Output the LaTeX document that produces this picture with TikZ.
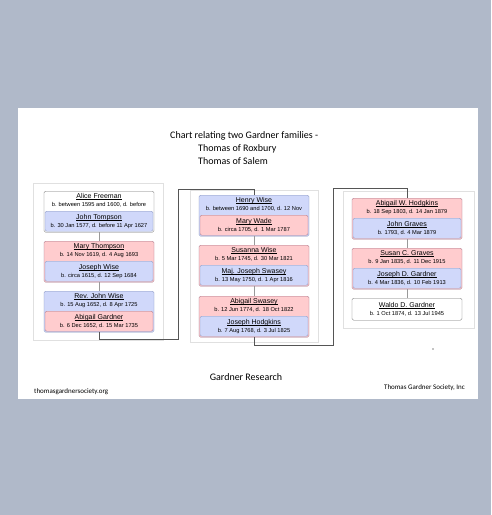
\documentclass[tikz,border=0pt]{standalone}
\usepackage{fontspec}
\setmainfont{Liberation Sans}
\newfontfamily\calibfont{Carlito}
\usetikzlibrary{positioning}
\definecolor{pagebg}{RGB}{176,185,201}
\definecolor{pinkfill}{RGB}{255,204,206}
\definecolor{pinkline}{RGB}{165,115,135}
\definecolor{bluefill}{RGB}{208,216,250}
\definecolor{blueline}{RGB}{135,148,190}
\definecolor{linkgray}{RGB}{85,85,85}
\newcommand{\bdate}[1]{{\fontsize{5.7}{7.5}\selectfont #1}}
\newsavebox{\namebox}
\newcommand{\pname}[1]{\sbox{\namebox}{#1}\rlap{\rule[-1.1pt]{\wd\namebox}{0.4pt}}\usebox{\namebox}}
\tikzset{
  couple/.style={rectangle, rounded corners=1.5pt, minimum width=110pt, minimum height=41pt, inner sep=0pt, anchor=north},
  spouse/.style={rectangle, rounded corners=1.5pt, minimum width=108pt, minimum height=20pt, inner sep=0pt, align=center, font=\fontsize{7}{7.8}\selectfont},
  ptext/.style={align=center, inner sep=0.5pt, font=\fontsize{7}{7.8}\selectfont},
  pinkbox/.style={fill=pinkfill, draw=pinkline},
  bluebox/.style={fill=bluefill, draw=blueline},
  whitebox/.style={fill=white, draw=black!55},
  kin/.style={draw=black!40, line width=0.6pt},
  link/.style={draw=linkgray, line width=0.8pt},
  panel/.style={draw=black!12, line width=0.6pt},
  ttl/.style={font=\calibfont\fontsize{10}{12}\selectfont, inner sep=0pt},
  foot/.style={font=\calibfont\fontsize{7}{8}\selectfont, inner sep=0pt}
}

\begin{document}
\begin{tikzpicture}[x=1pt, y=-1pt]
    \fill[pagebg] (0,0) rectangle (491,515);
    \useasboundingbox (0,0) rectangle (491,515);
    \fill[white] (18,108) rectangle (478,399);

    % title
    \node[ttl, anchor=west] (title1) at (170,136) {Chart relating two Gardner families -};
    \node[ttl, anchor=west] (title2) at (198,148.5) {Thomas of Roxbury};
    \node[ttl, anchor=west] (title3) at (198,161) {Thomas of Salem};

    % column panels
    \draw[panel] (33,183) rectangle (163,340);
    \draw[panel] (190,190) rectangle (318,342);
    \draw[panel] (343,191) rectangle (474,328);

    % left column
    \node[couple, whitebox] (af) at (99,191) {};
    \node[ptext, below=2pt of af.north] (af-t) {\pname{Alice Freeman}\\\bdate{b. between 1595 and 1600, d. before}};
    \node[spouse, bluebox, above=1pt of af.south] (jt) {\pname{John Tompson}\\\bdate{b. 30 Jan 1577, d. before 11 Apr 1627}};

    \node[couple, pinkbox] (mt) at (99,241) {};
    \node[ptext, below=2pt of mt.north] (mt-t) {\pname{Mary Thompson}\\\bdate{b. 14 Nov 1619, d. 4 Aug 1693}};
    \node[spouse, bluebox, above=1pt of mt.south] (jw) {\pname{Joseph Wise}\\\bdate{b. circa 1615, d. 12 Sep 1684}};

    \node[couple, bluebox] (rjw) at (99,291) {};
    \node[ptext, below=2pt of rjw.north] (rjw-t) {\pname{Rev. John Wise}\\\bdate{b. 15 Aug 1652, d. 8 Apr 1725}};
    \node[spouse, pinkbox, above=1pt of rjw.south] (ag) {\pname{Abigail Gardner}\\\bdate{b. 6 Dec 1652, d. 15 Mar 1735}};

    % middle column
    \node[couple, bluebox] (hw) at (254,195) {};
    \node[ptext, below=2pt of hw.north] (hw-t) {\pname{Henry Wise}\\\bdate{b. between 1690 and 1700, d. 12 Nov}};
    \node[spouse, pinkbox, above=1pt of hw.south] (mw) {\pname{Mary Wade}\\\bdate{b. circa 1705, d. 1 Mar 1787}};

    \node[couple, pinkbox] (sw) at (254,245) {};
    \node[ptext, below=2pt of sw.north] (sw-t) {\pname{Susanna Wise}\\\bdate{b. 5 Mar 1745, d. 30 Mar 1821}};
    \node[spouse, bluebox, above=1pt of sw.south] (mjs) {\pname{Maj. Joseph Swasey}\\\bdate{b. 13 May 1750, d. 1 Apr 1816}};

    \node[couple, pinkbox] (as) at (254,296) {};
    \node[ptext, below=2pt of as.north] (as-t) {\pname{Abigail Swasey}\\\bdate{b. 12 Jun 1774, d. 18 Oct 1822}};
    \node[spouse, bluebox, above=1pt of as.south] (jh) {\pname{Joseph Hodgkins}\\\bdate{b. 7 Aug 1768, d. 3 Jul 1825}};

    % right column
    \node[couple, pinkbox] (awh) at (407,198) {};
    \node[ptext, below=2pt of awh.north] (awh-t) {\pname{Abigail W. Hodgkins}\\\bdate{b. 18 Sep 1803, d. 14 Jan 1879}};
    \node[spouse, bluebox, above=1pt of awh.south] (jg) {\pname{John Graves}\\\bdate{b. 1793, d. 4 Mar 1879}};

    \node[couple, pinkbox] (scg) at (407,248) {};
    \node[ptext, below=2pt of scg.north] (scg-t) {\pname{Susan C. Graves}\\\bdate{b. 9 Jan 1835, d. 11 Dec 1915}};
    \node[spouse, bluebox, above=1pt of scg.south] (jdg) {\pname{Joseph D. Gardner}\\\bdate{b. 4 Mar 1836, d. 10 Feb 1913}};

    \node[spouse, whitebox, minimum width=110pt, minimum height=22pt, anchor=north] (wdg) at (407,298) {\pname{Waldo D. Gardner}\\\bdate{b. 1 Oct 1874, d. 13 Jul 1945}};

    % links inside the columns
    \draw[kin] (af) -- (mt);
    \draw[kin] (mt) -- (rjw);
    \draw[kin] (hw) -- (sw);
    \draw[kin] (sw) -- (as);
    \draw[kin] (awh) -- (scg);
    \draw[kin] (scg) -- (wdg);

    % links between the columns
    \coordinate (turn1) at (178,339);
    \coordinate (turn2) at (178,189);
    \coordinate (turn3) at (333,345);
    \coordinate (turn4) at (333,188);
    \draw[link] (rjw.south) |- (turn1) -- (turn2) -| (hw.north);
    \draw[link] (as.south) |- (turn3) -- (turn4) -| (awh.north);

    \fill (433,349) circle (0.6pt);

    % footer
    \node[ttl] (research) at (246,377) {Gardner Research};
    \node[foot, anchor=west] (site) at (34,392) {thomasgardnersociety.org};
    \node[foot, anchor=east] (society) at (465,388) {Thomas Gardner Society, Inc};
\end{tikzpicture}
\end{document}
